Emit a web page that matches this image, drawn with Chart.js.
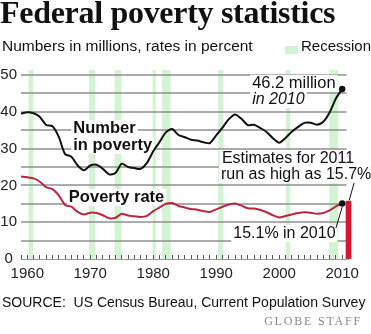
<!DOCTYPE html>
<html>
<head>
<meta charset="utf-8">
<script src="https://cdn.jsdelivr.net/npm/chart.js@4.4.0/dist/chart.umd.min.js"></script>
<style>
  body { margin: 0; background: #fff; }
  #wrap { position: relative; width: 371px; height: 334px; overflow: hidden; font-family: "Liberation Sans", Arial, sans-serif; color: #111; }
  #chart { position: absolute; left: 0; top: 0; }
  .title { position: absolute; left: 0; top: -3px; font: bold 32px/31px "Liberation Serif", serif; white-space: nowrap; letter-spacing: -0.3px; }
  .sub { position: absolute; left: 2px; top: 38px; font-size: 15.5px; line-height: 16px; white-space: nowrap; }
  .swatch { position: absolute; left: 285px; top: 46px; width: 13px; height: 8px; background: #d2f4d2; }
  .legend { position: absolute; left: 301px; top: 38px; font-size: 15px; line-height: 16px; white-space: nowrap; }
  .source { position: absolute; left: 2px; top: 294px; font-size: 14px; line-height: 16px; white-space: nowrap; }
  .credit { position: absolute; right: 9px; top: 315px; font: 12px/12px "Liberation Serif", serif; letter-spacing: 1.8px; color: #8a8a8a; white-space: nowrap; }
</style>
</head>
<body>
<div id="wrap">
  <canvas id="chart" width="371" height="334"></canvas>
  <div class="title">Federal poverty statistics</div>
  <div class="sub">Numbers in millions, rates in percent</div>
  <div class="swatch"></div>
  <div class="legend">Recession</div>
  <div class="source">SOURCE:&nbsp; US Census Bureau, Current Population Survey</div>
  <div class="credit">GLOBE STAFF</div>
</div>
<script>
// Data
const years = [1959, 1960, 1961, 1962, 1963, 1964, 1965, 1966, 1967, 1968,
               1969, 1970, 1971, 1972, 1973, 1974, 1975, 1976, 1977, 1978,
               1979, 1980, 1981, 1982, 1983, 1984, 1985, 1986, 1987, 1988,
               1989, 1990, 1991, 1992, 1993, 1994, 1995, 1996, 1997, 1998,
               1999, 2000, 2001, 2002, 2003, 2004, 2005, 2006, 2007, 2008,
               2009, 2010];
// number in poverty, millions
const numberInPoverty = [39.5, 39.9, 39.6, 38.6, 36.4, 36.1, 33.2, 28.5, 27.8, 25.4,
                         24.1, 25.4, 25.6, 24.5, 23.0, 23.4, 25.9, 25.0, 24.7, 24.5,
                         26.1, 29.3, 31.8, 34.4, 35.3, 33.7, 33.1, 32.4, 32.2, 31.7,
                         31.5, 33.6, 35.7, 38.0, 39.3, 38.1, 36.4, 36.5, 35.6, 34.5,
                         32.8, 31.6, 32.9, 34.6, 35.9, 37.0, 37.0, 36.5, 37.3, 39.8,
                         43.6, 46.2];
// poverty rate, percent
const povertyRate = [22.4, 22.2, 21.9, 21.0, 19.5, 19.0, 17.3, 14.7, 14.2, 12.8,
                     12.1, 12.6, 12.5, 11.9, 11.1, 11.2, 12.3, 11.8, 11.6, 11.4,
                     11.7, 13.0, 14.0, 15.0, 15.2, 14.4, 14.0, 13.6, 13.4, 13.0,
                     12.8, 13.5, 14.2, 14.8, 15.1, 14.5, 13.8, 13.7, 13.3, 12.7,
                     11.9, 11.3, 11.7, 12.1, 12.5, 12.7, 12.6, 12.3, 12.5, 13.2,
                     14.3, 15.1];
// 2011 estimate (upper end)
const estimateYear = [2011];
const estimateRate = [15.7];
// recession periods (decimal years)
const recessionStart = [1960.2, 1969.8, 1973.85, 1979.9, 1981.4, 1990.3, 2001.05, 2007.95];
const recessionEnd   = [1960.95, 1970.8, 1974.95, 1980.4, 1982.75, 1991.15, 2001.75, 2009.35];
// axis ticks
const yTickValues = [0, 10, 20, 30, 40, 50];
const yGridValues = [5, 10, 15, 20, 25, 30, 35, 40, 45, 50];
const xTickLabels = [1960, 1970, 1980, 1990, 2000, 2010];

const SANS = '"Liberation Sans", Arial, sans-serif';
const lastIdx = years.length - 1;

// Recession bands, behind everything
const recessionBands = {
    id: 'recessionBands',
    beforeDraw(chart) {
        const { ctx, chartArea, scales: { x } } = chart;
        ctx.save();
        ctx.fillStyle = '#d2f4d2';
        recessionStart.forEach((s, i) => {
            const x0 = x.getPixelForValue(s);
            const x1 = x.getPixelForValue(recessionEnd[i]);
            ctx.fillRect(x0, chartArea.top - 5, x1 - x0, chartArea.bottom - chartArea.top + 5);
        });
        ctx.restore();
    }
};

// Text labels, anchored in data units (year, value) at left baseline
const notes = [
    { text: 'Number', x: 1967.3, y: 34.2, font: 'bold 16.5px ' + SANS },
    { text: 'in poverty', x: 1967.3, y: 29.6, font: 'bold 16.5px ' + SANS },
    { text: 'Poverty rate', x: 1966.6, y: 15.5, font: 'bold 16.5px ' + SANS },
    { text: '46.2 million', x: 1995.7, y: 46.5, font: '16.5px ' + SANS },
    { text: 'in 2010', x: 1995.7, y: 42.1, font: 'italic 16px ' + SANS },
    { text: 'Estimates for 2011', x: 1990.9, y: 26.1, font: '16px ' + SANS },
    { text: 'run as high as 15.7%', x: 1990.75, y: 21.7, font: '16px ' + SANS },
    { text: '15.1% in 2010', x: 1992.7, y: 5.7, font: '16px ' + SANS }
];
const leaders = [
    [2011.9, 20.7, 2011.1, 15.9],
    [2010.0, 14.1, 2009.0, 8.4]
];

const annotations = {
    id: 'annotations',
    beforeDatasetsDraw(chart) {
        const { ctx, chartArea, scales: { x, y } } = chart;
        ctx.save();
        // guide lines every 5 units
        ctx.strokeStyle = '#8f8f8f';
        ctx.lineWidth = 1.5;
        yGridValues.forEach(v => {
            const py = Math.round(y.getPixelForValue(v));
            ctx.beginPath();
            ctx.moveTo(chartArea.left, py);
            ctx.lineTo(chartArea.right - 2, py);
            ctx.stroke();
        });
        // labels with white backing
        ctx.textBaseline = 'alphabetic';
        notes.forEach(n => {
            ctx.font = n.font;
            const px = x.getPixelForValue(n.x);
            const py = y.getPixelForValue(n.y);
            const w = ctx.measureText(n.text).width;
            ctx.fillStyle = '#fff';
            ctx.fillRect(px - 2, py - 13, w + 4, 17);
            ctx.fillStyle = '#111';
            ctx.fillText(n.text, px, py);
        });
        ctx.restore();
    },
    afterDatasetsDraw(chart) {
        const { ctx, scales: { x, y } } = chart;
        ctx.save();
        ctx.strokeStyle = '#111';
        ctx.lineWidth = 1;
        leaders.forEach(l => {
            ctx.beginPath();
            ctx.moveTo(x.getPixelForValue(l[0]), y.getPixelForValue(l[1]));
            ctx.lineTo(x.getPixelForValue(l[2]), y.getPixelForValue(l[3]));
            ctx.stroke();
        });
        ctx.restore();
    }
};

const ctx = document.getElementById('chart').getContext('2d');
new Chart(ctx, {
    type: 'line',
    data: {
        datasets: [{
            label: 'Number in poverty',
            data: years.map((yr, i) => ({ x: yr, y: numberInPoverty[i] })),
            borderColor: '#111',
            borderWidth: 2,
            tension: 0.25,
            pointRadius: c => c.dataIndex === lastIdx ? 3.2 : 0,
            pointBackgroundColor: '#111',
            pointBorderWidth: 0
        }, {
            label: 'Poverty rate',
            data: years.map((yr, i) => ({ x: yr, y: povertyRate[i] })),
            borderColor: '#bb2540',
            borderWidth: 2,
            tension: 0.25,
            pointRadius: c => c.dataIndex === lastIdx ? 3.2 : 0,
            pointBackgroundColor: '#111',
            pointBorderWidth: 0
        }, {
            type: 'bar',
            label: '2011 estimate',
            data: estimateYear.map((yr, i) => ({ x: yr, y: estimateRate[i] })),
            backgroundColor: '#d8142f',
            barThickness: 5,
            clip: false
        }]
    },
    options: {
        responsive: false,
        animation: false,
        events: [],
        layout: { padding: { left: 0, right: 22.5, top: 75, bottom: 49 } },
        plugins: { legend: { display: false }, tooltip: { enabled: false } },
        scales: {
            x: {
                type: 'linear',
                min: 1959,
                max: 2011,
                offset: false,
                afterFit: s => { s.height = 26; },
                afterBuildTicks: s => {
                    s.ticks = years.concat(estimateYear).map(v => ({ value: v }));
                },
                ticks: {
                    autoSkip: false,
                    maxRotation: 0,
                    padding: 10,
                    color: '#222',
                    font: { family: SANS, size: 15 },
                    callback: v => xTickLabels.includes(v) ? String(v) : ''
                },
                grid: { drawOnChartArea: false, drawTicks: true, tickLength: -4, color: '#555', offset: false },
                border: { display: true, color: '#999' }
            },
            y: {
                min: 0,
                max: 50,
                afterFit: s => { s.width = 21; },
                ticks: {
                    stepSize: 5,
                    padding: 4,
                    crossAlign: 'center',
                    color: '#222',
                    font: { family: SANS, size: 15 },
                    callback: v => yTickValues.includes(v) ? String(v) : ''
                },
                grid: { drawOnChartArea: false, drawTicks: false },
                border: { display: false }
            }
        }
    },
    plugins: [recessionBands, annotations]
});
</script>
</body>
</html>
